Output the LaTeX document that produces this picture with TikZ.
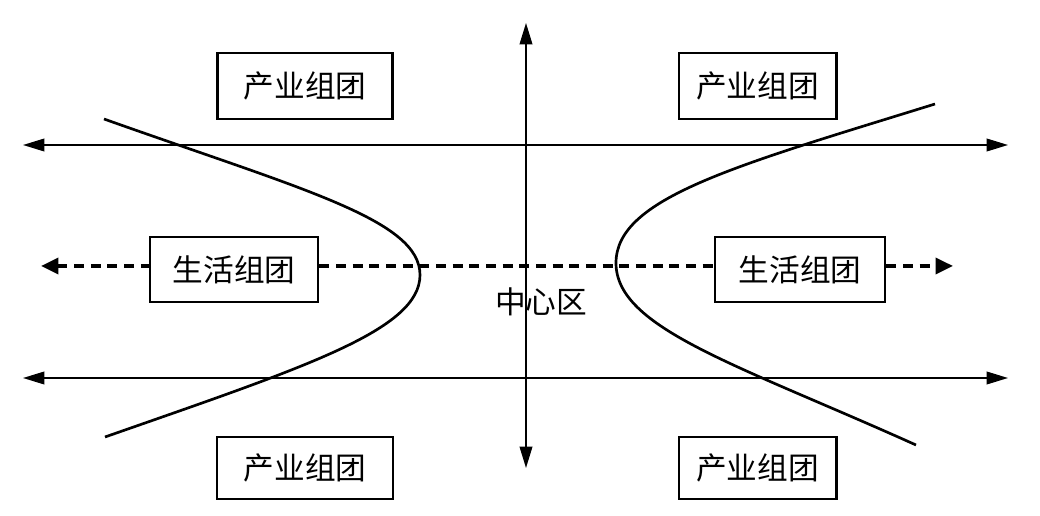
\documentclass[tikz,border=0pt]{standalone}
\usepackage{fontspec}
\newfontfamily\cjk{Noto Sans CJK SC}
\usetikzlibrary{arrows.meta}

\tikzset{
  zone/.style={draw, line width=2pt, inner sep=0pt, font=\cjk\fontsize{23}{27}\selectfont},
  axis/.style={line width=1.2pt, {Triangle[length=16pt,width=9.5pt]}-{Triangle[length=16pt,width=9.5pt]}},
  flow/.style={line width=2.6pt, dash pattern=on 7.5pt off 5pt},
  flowtip/.tip={Triangle[length=13pt,width=12pt]},
  branch/.style={line width=2pt}
}

\begin{document}
\begin{tikzpicture}[x=0.75pt,y=0.75pt,yscale=-1,xscale=1]
\useasboundingbox (0,0) rectangle (1040,516);

% Text Node
\draw (305,86) node (ptl) [zone, minimum width=131pt, minimum height=49.5pt] {产业组团};
% Text Node
\draw (757.5,86) node (ptr) [zone, minimum width=118pt, minimum height=49.5pt] {产业组团};
% Text Node
\draw (305,468) node (pbl) [zone, minimum width=132pt, minimum height=46.5pt] {产业组团};
% Text Node
\draw (757.5,468) node (pbr) [zone, minimum width=118pt, minimum height=46.5pt] {产业组团};
% Text Node
\draw (234,269.5) node (sl) [zone, minimum width=126pt, minimum height=48.75pt] {生活组团};
% Text Node
\draw (800,269.5) node (sr) [zone, minimum width=127.5pt, minimum height=48.75pt] {生活组团};
% Text Node
\draw (541,302) node (cz) [font=\cjk\fontsize{23}{27}\selectfont, inner sep=0pt] {中心区};

%Shape: Axis ends
\coordinate (htl) at (23,145);
\coordinate (htr) at (1008,145);
\coordinate (hbl) at (23,378);
\coordinate (hbr) at (1008,378);
\coordinate (vt) at (526,23);
\coordinate (vb) at (526,468);
\coordinate (dl) at (41,266);
\coordinate (dr) at (953,266);

%Shape: Axes
\draw [axis] (htl) -- (htr);
\draw [axis] (hbl) -- (hbr);
\draw [axis] (vt) -- (vb);

%Shape: Dashed axis
\draw [flow, flowtip-] (dl) -- (dl -| sl.west);
\draw [flow] (sl.east |- dl) -- (sr.west |- dl);
\draw [flow, -flowtip] (sr.east |- dl) -- (dr);

%Shape: Left branch
\draw [branch] (104,119) .. controls (304,190) and (420,220) .. (420,275) .. controls (420,330) and (305,367) .. (105,437);
%Shape: Right branch
\draw [branch] (935,104) .. controls (735,166) and (616,198) .. (616,263) .. controls (616,328) and (736,364) .. (916,445);

\end{tikzpicture}
\end{document}
